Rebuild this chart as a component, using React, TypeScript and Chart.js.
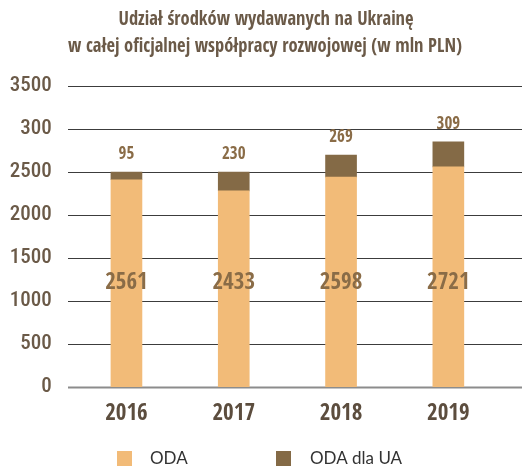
import React, { useEffect, useRef } from "react";
import { Chart, registerables } from "chart.js";

Chart.register(...registerables);

const categories = ["2016", "2017", "2018", "2019"];
const odaValues = [2410, 2280, 2440, 2560];
const uaValues = [90, 220, 258, 290];
const odaLabels = ["2561", "2433", "2598", "2721"];
const uaLabels = ["95", "230", "269", "309"];
const yTickValues = [0, 500, 1000, 1500, 2000, 2500, 3000, 3500];
const yTickLabels = ["0", "500", "1000", "1500", "2000", "2500", "300", "3500"];
const titleLines = [
  "Udział środków wydawanych na Ukrainę",
  "w całej oficjalnej współpracy rozwojowej (w mln PLN)",
];
const legendNames = ["ODA", "ODA dla UA"];

const ODA_COLOR = "#F2BB78";
const UA_COLOR = "#846A46";
const NARROW = "'Open Sans Condensed', 'Roboto Condensed', sans-serif";

const decorPlugin = {
  id: "decor",
  beforeDatasetsDraw(chart: any) {
    const ctx = chart.ctx;
    const y = chart.scales.y;
    ctx.save();
    yTickValues.forEach((v) => {
      const py = Math.round(y.getPixelForValue(v)) + 0.5;
      ctx.beginPath();
      ctx.strokeStyle = v === 0 ? "#8c8c8c" : "#3c3c3c";
      ctx.lineWidth = v === 0 ? 2 : 1;
      ctx.moveTo(68, py);
      ctx.lineTo(522, py);
      ctx.stroke();
    });
    ctx.restore();
  },
  afterDraw(chart: any) {
    const ctx = chart.ctx;
    const x = chart.scales.x;
    const y = chart.scales.y;
    ctx.save();
    // title (condensed further by a horizontal scale to match the reference's narrow face)
    ctx.fillStyle = "#6b5a48";
    ctx.textAlign = "center";
    ctx.textBaseline = "middle";
    ctx.font = `bold 20px ${NARROW}`;
    const titleSpec = [
      { cx: 266, cy: 20, w: 295 },
      { cx: 265, cy: 47, w: 394 },
    ];
    titleLines.forEach((t, i) => {
      const s = titleSpec[i];
      const mw = ctx.measureText(t).width;
      const k = Math.min(1, s.w / mw);
      ctx.save();
      ctx.translate(s.cx, s.cy);
      ctx.scale(k, 1);
      ctx.fillText(t, 0, 0);
      ctx.restore();
    });
    // value labels
    ctx.fillStyle = "#8a6c47";
    categories.forEach((_, i) => {
      const cx = x.getPixelForValue(i);
      const top = y.getPixelForValue(odaValues[i] + uaValues[i]);
      ctx.font = `bold 17px ${NARROW}`;
      ctx.fillText(uaLabels[i], cx, top - 17);
      ctx.font = `bold 23px ${NARROW}`;
      ctx.fillText(odaLabels[i], cx, y.getPixelForValue(1210));
    });
    // legend
    const items = [
      { color: ODA_COLOR, x: 117, tx: 150 },
      { color: UA_COLOR, x: 276, tx: 310 },
    ];
    ctx.textAlign = "left";
    ctx.font = "17px 'Lato', 'Noto Sans', sans-serif";
    items.forEach((it, i) => {
      ctx.fillStyle = it.color;
      ctx.fillRect(it.x, 451, 15, 15);
      ctx.fillStyle = "#333333";
      ctx.fillText(legendNames[i], it.tx, 459);
    });
    ctx.restore();
  },
};

export default function App() {
  const ref = useRef<HTMLCanvasElement | null>(null);
  useEffect(() => {
    if (!ref.current) return;
    const chart = new Chart(ref.current, {
      type: "bar",
      data: {
        labels: categories,
        datasets: [
          {
            label: legendNames[0],
            data: odaValues,
            backgroundColor: ODA_COLOR,
            barThickness: 31,
          },
          {
            label: legendNames[1],
            data: uaValues,
            backgroundColor: UA_COLOR,
            barThickness: 31,
          },
        ],
      },
      options: {
        responsive: false,
        animation: false,
        layout: { padding: { top: 86, right: 20, bottom: 0, left: 0 } },
        plugins: {
          legend: { display: false },
          title: { display: false },
          tooltip: { enabled: false },
        },
        scales: {
          x: {
            stacked: true,
            grid: { display: false, drawTicks: false },
            border: { display: false },
            ticks: {
              color: "#5c4d3e",
              font: { family: NARROW, size: 23, weight: "bold" },
              padding: 13,
            },
            afterFit(scale: any) {
              scale.height = 81;
            },
          },
          y: {
            stacked: true,
            min: 0,
            max: 3500,
            grid: { display: false, drawTicks: false },
            border: { display: false },
            ticks: {
              stepSize: 500,
              color: "#6b5a48",
              font: { family: "'Roboto Condensed', 'Open Sans Condensed', sans-serif", size: 21, weight: "500" },
              padding: 21,
              callback: (v: any) => {
                const idx = yTickValues.indexOf(Number(v));
                return idx >= 0 ? yTickLabels[idx] : "";
              },
            },
            afterFit(scale: any) {
              scale.width = 72.8;
            },
          },
        },
      },
      plugins: [decorPlugin],
    } as any);
    return () => chart.destroy();
  }, []);
  return (
    <div style={{ position: "absolute", left: 0, top: 0, width: 522, height: 468, background: "#fff" }}>
      <canvas ref={ref} width={522} height={468} />
    </div>
  );
}
